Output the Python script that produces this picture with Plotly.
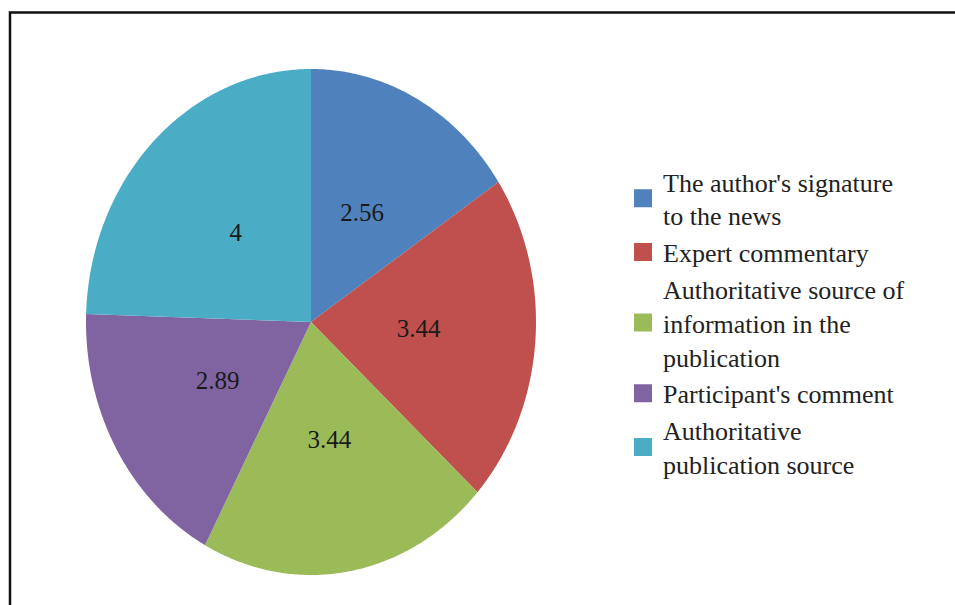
import numpy as np
import plotly.graph_objects as go

# Survey scores by element of a news publication
categories = [
    "The author's signature<br>to the news",
    "Expert commentary",
    "Authoritative source of<br>information in the<br>publication",
    "Participant's comment",
    "Authoritative<br>publication source",
]
values = [2.56, 3.44, 3.44, 2.89, 4]
value_labels = ["2.56", "3.44", "3.44", "2.89", "4"]
colors = ["#4F81BD", "#C0504D", "#9BBB59", "#8064A2", "#4BACC6"]

W, H = 955, 605
LABEL_R = 0.48  # label distance from centre, as a fraction of the radius

fig = go.Figure()

total = float(sum(values))
start = 0.0
label_x, label_y = [], []
for val, col in zip(values, colors):
    sweep = val / total * 2 * np.pi
    theta = np.linspace(start, start + sweep, max(int(sweep / (2 * np.pi) * 720), 8))
    # angles run clockwise from 12 o'clock
    xs = np.concatenate([[0.0], np.sin(theta), [0.0]])
    ys = np.concatenate([[0.0], np.cos(theta), [0.0]])
    fig.add_trace(go.Scatter(
        x=xs, y=ys, mode="none", fill="toself", fillcolor=col,
        showlegend=False, hoverinfo="skip",
    ))
    mid = start + sweep / 2
    label_x.append(LABEL_R * np.sin(mid))
    label_y.append(LABEL_R * np.cos(mid))
    start += sweep

# value labels inside the slices
fig.add_trace(go.Scatter(
    x=label_x, y=label_y, mode="text", text=value_labels,
    textposition="middle center",
    textfont=dict(family="Liberation Serif", size=25, color="#1a1a1a"),
    showlegend=False, hoverinfo="skip",
))

# legend entries
for name, col in zip(categories, colors):
    fig.add_trace(go.Scatter(
        x=[None], y=[None], mode="markers", name=name,
        marker=dict(symbol="square", size=16, color=col,
                    line=dict(color=col, width=2)),
    ))

fig.update_layout(
    width=W, height=H,
    margin=dict(l=0, r=0, t=0, b=0),
    paper_bgcolor="white", plot_bgcolor="rgba(0,0,0,0)",
    xaxis=dict(visible=False, range=[-1, 1], domain=[86 / W, 536 / W], fixedrange=True),
    yaxis=dict(visible=False, range=[-1, 1], domain=[(H - 575) / H, (H - 69) / H], fixedrange=True),
    legend=dict(
        x=623 / W, xanchor="left", y=1 - 158 / H, yanchor="top",
        font=dict(family="Liberation Serif", size=26, color="#222222"),
        itemclick=False, itemdoubleclick=False, tracegroupgap=0,
        bgcolor="rgba(0,0,0,0)",
    ),
    shapes=[dict(
        type="rect", xref="paper", yref="paper",
        x0=10 / W, x1=1.2, y0=-0.2, y1=1 - 12.5 / H,
        line=dict(color="#111111", width=2.5),
    )],
    showlegend=True,
)

fig.write_html("out.html")
